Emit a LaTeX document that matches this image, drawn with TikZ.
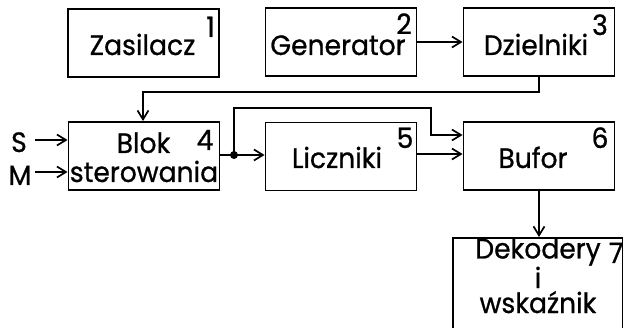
\documentclass[tikz,border=0pt]{standalone}
\usepackage{fontspec}
\setmainfont{Poppins}[FakeStretch=0.95,FakeBold=0.8]
\usetikzlibrary{arrows.meta}
\begin{document}
\begin{tikzpicture}[x=1pt,y=-1pt,
  blk/.style={draw,line width=1.9pt,minimum width=151pt,minimum height=68pt,inner sep=0pt},
  txt/.style={inner sep=0pt,anchor=base,font=\fontsize{28}{25}\selectfont},
  conn/.style={line width=1.7pt,-{Straight Barb[length=9pt,width=11pt,line width=1.7pt]}},
  wire/.style={line width=1.7pt}]
\useasboundingbox (0,0) rectangle (623,328);
% boxes
\node[blk] (zas) at (143.5,43) {};
\node[blk] (gen) at (341,42) {};
\node[blk] (dz) at (539,42) {};
\node[blk] (bs) at (144,156) {};
\node[blk] (lic) at (341,156.5) {};
\node[blk] (buf) at (539,156) {};
\node[draw,line width=1.9pt,minimum width=170pt,minimum height=110pt,inner sep=0pt,anchor=north west] (dek) at (452,237) {};
% texts
\node[txt] (tzas) at (142.5,55) {Zasilacz};
\node[txt] (tgen) at (338,55) {Generator};
\node[txt] (tdz) at (536,55) {Dzielniki};
\node[txt] (tblok) at (143.5,153) {Blok};
\node[txt] (tster) at (144,182) {sterowania};
\node[txt] (tlic) at (337,168) {Liczniki};
\node[txt] (tbuf) at (533,168) {Bufor};
\node[txt,align=center] (tdek) at (538,313) {Dekodery\\i\\wskaźnik};
% numbers
\node[txt] (n1) at (210.5,37) {1};
\node[txt] (n2) at (404,34) {2};
\node[txt] (n3) at (600,35) {3};
\node[txt] (n4) at (205,150) {4};
\node[txt] (n5) at (405,148) {5};
\node[txt] (n6) at (600,148) {6};
\node[txt] (n7) at (616,263) {7};
% inputs
\node[txt] (s) at (19,152) {S};
\node[txt] (m) at (20,185) {M};
\coordinate (sin) at (35,140);
\coordinate (min) at (35,172);
\draw[conn] (sin) -- (bs.west |- sin);
\draw[conn] (min) -- (bs.west |- min);
% connections
\draw[conn] (gen.east) -- (dz.west);
\coordinate (c1) at (539,92);
\coordinate (c2) at (143,92);
\draw[conn] (dz.south) -- (c1) -- (c2) -- (bs.north -| c2);
\coordinate (dot) at (234,155);
\draw[wire] (bs.east |- dot) -- (dot);
\draw[conn] (dot) -- (lic.west |- dot);
\fill (dot) circle (4pt);
\coordinate (c3) at (234,108);
\coordinate (c4) at (431,108);
\coordinate (c5) at (431,135);
\draw[conn] (dot) -- (c3) -- (c4) -- (c5) -- (buf.west |- c5);
\coordinate (c6) at (417,154);
\draw[conn] (c6) -- (buf.west |- c6);
\draw[conn] (buf.south) -- (dek.north -| buf.south);
\end{tikzpicture}
\end{document}
